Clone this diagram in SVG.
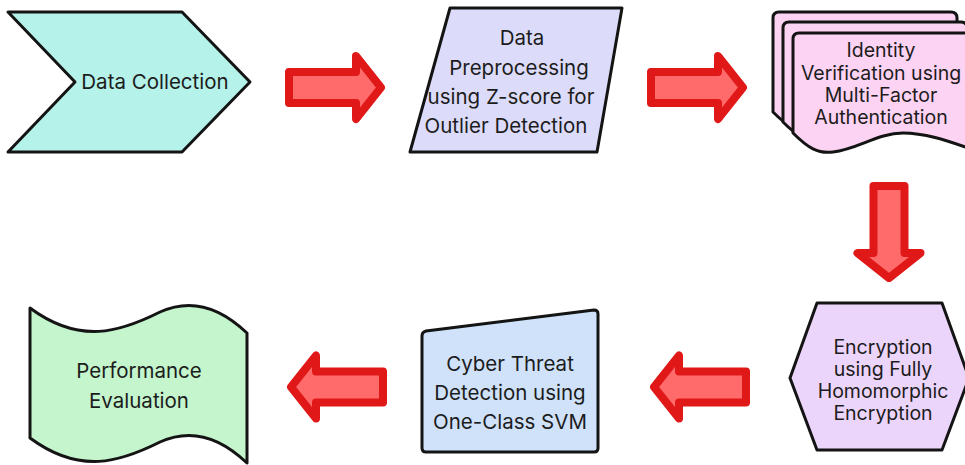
<svg xmlns="http://www.w3.org/2000/svg" width="965" height="465" viewBox="0 0 965 465">
<style>
.n{stroke:#141414;stroke-width:3;stroke-linejoin:round}
.t{font-family:Inter,"Liberation Sans",sans-serif;font-size:20.5px;fill:#1c1c1c;text-anchor:middle}
.s{font-size:19.5px}
.a{fill:#ff6b6b;stroke:#e01818;stroke-width:8;stroke-linejoin:round}
</style>
<defs>
<path id="arr" d="M0,-15.5 L67,-15.5 L67,-31.5 L92,0 L67,31.5 L67,15.5 L0,15.5 Z"/>
<path id="doc" d="M6,0 L178,0 Q184,0 184,6 L184,118 C160,110 135,100 110,100 C85,100 65,116 40,119 C25,121 15,115 0,100 L0,6 Q0,0 6,0 Z"/>
</defs>
<rect width="965" height="465" fill="#ffffff"/>
<g id="connectors">
<use href="#arr" class="a" transform="translate(289,87.5)"/>
<use href="#arr" class="a" transform="translate(651,87.5)"/>
<use href="#arr" class="a" transform="translate(889,186) rotate(90)"/>
<use href="#arr" class="a" transform="translate(746,387) rotate(180)"/>
<use href="#arr" class="a" transform="translate(383,387) rotate(180)"/>
</g>
<g id="data-collection">
<path class="n" fill="#b5f2ea" d="M8,12 L182,12 L250,82 L182,152 L8,152 L75,82 Z"/>
<text class="t" x="155" y="89">Data Collection</text>
</g>
<g id="preprocessing">
<path class="n" fill="#dcdcfa" d="M450,8 L622,8 L597,152 L410,152 Z"/>
<text class="t" x="522" y="45">Data</text>
<text class="t" x="519" y="75">Preprocessing</text>
<text class="t" x="511" y="104">using Z-score for</text>
<text class="t" x="506" y="133">Outlier Detection</text>
</g>
<g id="identity-verification">
<use href="#doc" class="n" fill="#fcd3f2" transform="translate(773,12)"/>
<use href="#doc" class="n" fill="#fcd3f2" transform="translate(783,22)"/>
<use href="#doc" class="n" fill="#fcd3f2" transform="translate(793,33)"/>
<text class="t s" x="881" y="57">Identity</text>
<text class="t s" x="881" y="79.5">Verification using</text>
<text class="t s" x="881" y="102">Multi-Factor</text>
<text class="t s" x="881" y="124">Authentication</text>
</g>
<g id="encryption">
<path class="n" fill="#ecd5fa" d="M817,303 L942,303 L969,378 L942,450 L817,450 L790,378 Z"/>
<text class="t s" x="883" y="354">Encryption</text>
<text class="t s" x="883" y="376">using Fully</text>
<text class="t s" x="883" y="398">Homomorphic</text>
<text class="t s" x="883" y="420">Encryption</text>
</g>
<g id="threat-detection">
<path class="n" fill="#cfe2fa" d="M426,331 L594,310 Q598,310 598,314 L598,448 Q598,452 594,452 L426,452 Q422,452 422,448 L422,336 Q422,332 426,331 Z"/>
<text class="t" x="510" y="371">Cyber Threat</text>
<text class="t" x="510" y="400">Detection using</text>
<text class="t" x="510" y="429">One-Class SVM</text>
</g>
<g id="performance-evaluation">
<path class="n" fill="#c4f5cc" d="M30,308 C80,345 120,332 160,312 C195,296 225,312 247,333 L247,463 C225,442 195,426 160,442 C120,462 80,475 30,438 Z"/>
<text class="t" x="139" y="378">Performance</text>
<text class="t" x="139" y="408">Evaluation</text>
</g>
</svg>
